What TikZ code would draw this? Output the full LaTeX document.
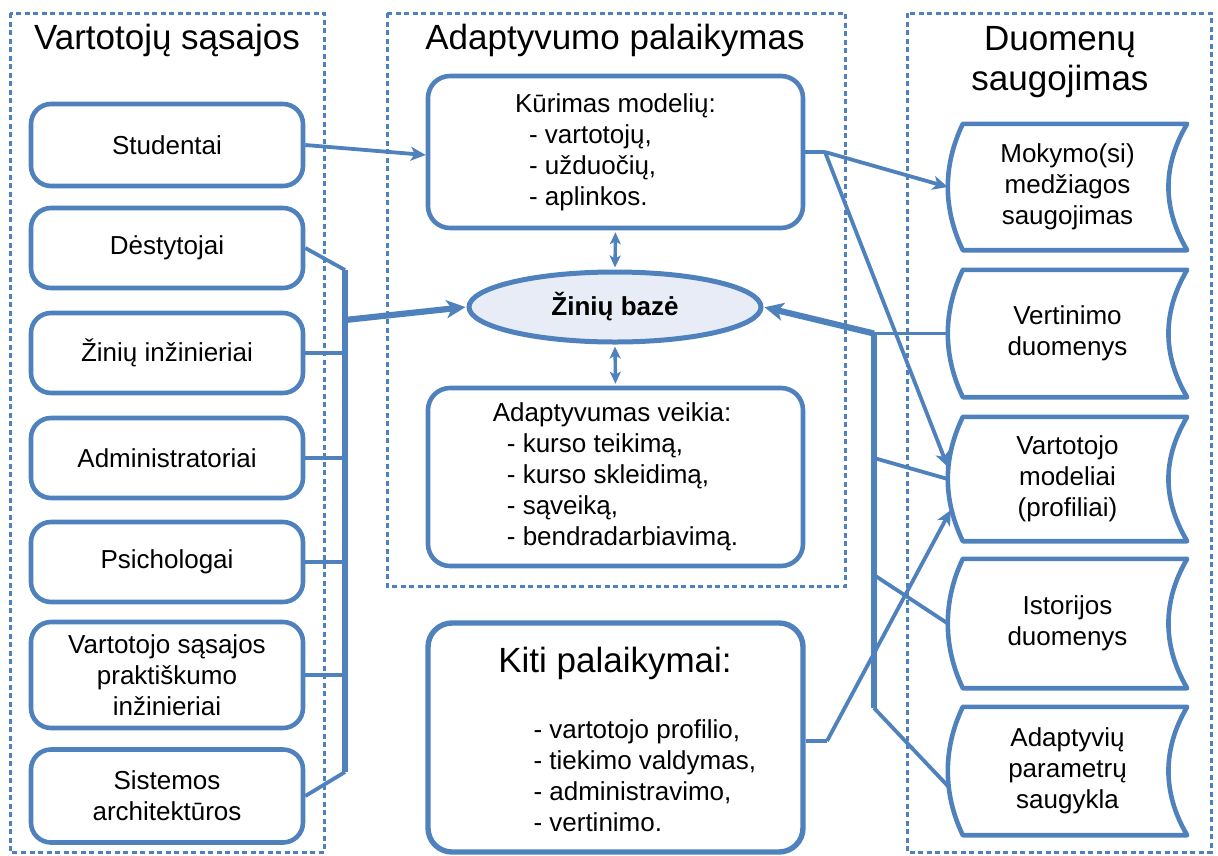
\documentclass[tikz,border=0pt]{standalone}
\usepackage{fontspec}
\setmainfont{Liberation Sans}
\usetikzlibrary{arrows.meta,calc,shapes.geometric}
\definecolor{ob}{RGB}{79,129,189}
\definecolor{kbfill}{RGB}{232,236,246}

\begin{document}
\begin{tikzpicture}[x=1pt,y=-1pt,
  txt/.style={font=\fontsize{26}{31}\selectfont, text=black, align=center},
  ttl/.style={font=\fontsize{35}{40}\selectfont, text=black},
  frame/.style={draw=ob, line width=3pt, dash pattern=on 5pt off 3.5pt},
  ubox/.style={draw=ob, line width=4.6pt, rounded corners=20pt, minimum width=272pt, inner sep=0pt, txt},
  mbox/.style={draw=ob, line width=4.6pt, rounded corners=22pt, minimum width=375pt, inner sep=0pt, txt, align=left},
  store/.style={minimum width=239pt, inner sep=0pt, txt},
  storeline/.style={draw=ob, line width=4.6pt, line join=round},
  conn/.style={draw=ob, line width=3.8pt},
  conna/.style={conn, -{Stealth[length=15pt,width=14pt,inset=4pt]}},
  bus/.style={draw=ob, line width=6.2pt},
  busarrow/.style={draw=ob, line width=6.2pt, -{Stealth[length=19pt,width=18pt,inset=5pt]}, shorten >=1pt},
  dbl/.style={draw=ob, line width=3.4pt, {Stealth[length=12pt,width=11pt,inset=3pt]}-{Stealth[length=12pt,width=11pt,inset=3pt]}, shorten <=2pt, shorten >=2pt}
]
\useasboundingbox (0,0) rectangle (1218,855);

% group frames
\draw[frame] (10,13) rectangle (324,852);
\draw[frame] (387,13) rectangle (845,586);
\draw[frame] (907,13) rectangle (1211,852);

% group titles
\node[ttl, anchor=base] (t1) at (167,49) {Vartotojų sąsajos};
\node[ttl, anchor=base] (t2) at (615,49) {Adaptyvumo palaikymas};
\node[ttl, anchor=base] (t3a) at (1060,50) {Duomenų};
\node[ttl, anchor=base] (t3b) at (1060,90) {saugojimas};

% user interfaces
\node[ubox, minimum height=82pt] (stud) at (167,145) {Studentai};
\node[ubox, minimum height=80pt] (dest) at (167,248) {Dėstytojai};
\node[ubox, minimum height=80pt] (zin) at (167,353) {Žinių inžinieriai};
\node[ubox, minimum height=80pt] (adm) at (167,458) {Administratoriai};
\node[ubox, minimum height=80pt] (psi) at (167,562) {Psichologai};
\node[ubox, minimum height=106pt] (vsp) at (167,675) {Vartotojo sąsajos\\praktiškumo\\inžinieriai};
\node[ubox, minimum height=93pt] (sis) at (167,796) {Sistemos\\architektūros};

% adaptivity support
\node[mbox, minimum height=152pt] (kur) at (615.5,152)
  {Kūrimas modelių:\\\hspace*{14pt}- vartotojų,\\\hspace*{14pt}- užduočių,\\\hspace*{14pt}- aplinkos.};
\node[ellipse, draw=ob, fill=kbfill, line width=5pt, minimum width=292pt, minimum height=70pt,
      inner sep=0pt, text=black, font=\bfseries\fontsize{26}{31}\selectfont] (kb) at (615,307) {Žinių bazė};
\node[mbox, minimum height=178pt] (ada) at (615.5,477)
  {Adaptyvumas veikia:\\\hspace*{14pt}- kurso teikimą,\\\hspace*{14pt}- kurso skleidimą,\\\hspace*{14pt}- sąveiką,\\\hspace*{14pt}- bendradarbiavimą.};

% other supports
\node[draw=ob, line width=5.4pt, rounded corners=24pt, minimum width=375pt, minimum height=229pt, inner sep=0pt] (kiti) at (615.5,737.5) {};
\node[ttl, anchor=base] (kt) at (615,672) {Kiti palaikymai:};
\node[txt, anchor=base west] (k1) at (530,738) {- vartotojo profilio,};
\node[txt, anchor=base west] (k2) at (530,769) {- tiekimo valdymas,};
\node[txt, anchor=base west] (k3) at (530,800) {- administravimo,};
\node[txt, anchor=base west] (k4) at (530,831) {- vertinimo.};

% data storage
\node[store, minimum height=126pt] (s1) at (1067.5,187) {Mokymo(si)\\medžiagos\\saugojimas};
\node[store, minimum height=127pt] (s2) at (1067.5,333.5) {Vertinimo\\duomenys};
\node[store, minimum height=124pt] (s3) at (1067.5,479) {Vartotojo\\modeliai\\(profiliai)};
\node[store, minimum height=129pt] (s4) at (1067.5,623.5) {Istorijos\\duomenys};
\node[store, minimum height=128pt] (s5) at (1067.5,771) {Adaptyvių\\parametrų\\saugykla};
\foreach \s in {s1,s2,s3,s4,s5}{
  \draw[storeline] ($(\s.north west)+(15,0)$) -- (\s.north east)
    .. controls +(-25,42) and +(-25,-42) .. (\s.south east)
    -- ($(\s.south west)+(15,0)$)
    .. controls +(-20,-42) and +(-20,42) .. ($(\s.north west)+(15,0)$) -- cycle;
}

% left bus
\coordinate (lb1) at (345,270);
\coordinate (lb2) at (345,772);
\coordinate (lbo) at (345,320);
\draw[bus] (lb1) -- (lb2);
\draw[conn] (dest.east) -- (lb1);
\draw[conn] (sis.east) -- (lb2);
\foreach \n in {zin,adm,psi,vsp}{
  \draw[conn] (\n.east) -- (\n.east -| lb1);
}
\draw[busarrow] (lbo) -- (kb.west);

% right bus
\coordinate (rb1) at (874,333.5);
\coordinate (rb3) at (874,458);
\coordinate (rb4) at (874,575);
\coordinate (rb2) at (874,708);
\draw[bus] (rb1) -- (rb2);
\draw[conn] (rb1) -- (s2.west);
\draw[busarrow] (rb1) -- (kb.east);
\draw[conn] (rb3) -- (s3.west);
\draw[conn] (rb4) -- (s4.west);
\draw[conn] (rb2) -- ($(s5.west)+(1,16)$);

% model creation links
\coordinate (kj) at (825,152);
\draw[conn] (kur.east) -- (kj);
\draw[conna] (kj) -- (s1.west);
\draw[conna] (kj) -- ($(s3.west)+(0,-12)$);

% other supports link
\coordinate (kk) at (827,741);
\draw[conn] (kk -| kiti.east) -- (kk);
\draw[conna] (kk) -- ($(s3.west)+(3,31)$);

% students link
\draw[conna] (stud.east) -- ($(kur.west)+(0,3)$);

% knowledge base links
\draw[dbl] (kur.south) -- (kb.north);
\draw[dbl] (kb.south) -- (ada.north);

\end{tikzpicture}
\end{document}
